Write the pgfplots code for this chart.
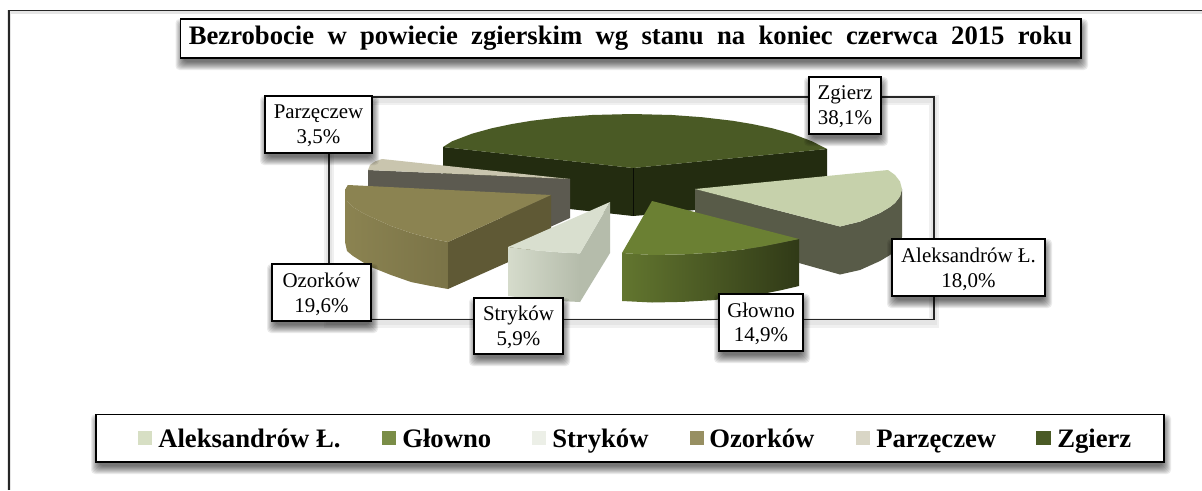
\documentclass[border=0pt]{standalone}
\usepackage{fontspec}
\setmainfont{Liberation Serif}
\usepackage{pgfplots}
\pgfplotsset{compat=1.18}

\definecolor{zgT}{HTML}{4A5A25}
\definecolor{zgS}{HTML}{232C10}
\definecolor{paT}{HTML}{C9C5AE}
\definecolor{paS}{HTML}{5C5A50}
\definecolor{ozT}{HTML}{8B8351}
\definecolor{ozS}{HTML}{5F5935}
\definecolor{alT}{HTML}{C6D1AB}
\definecolor{alS}{HTML}{585B48}
\definecolor{stT}{HTML}{D9DFCF}
\definecolor{stS}{HTML}{B5BCAB}
\definecolor{glT}{HTML}{6B8033}

% one blurred layer of a drop shadow: x0,y0,x1,y1,spread
\newcommand{\shl}[5]{\fill[black,opacity=.08,rounded corners=3pt]
  ([shift={({(1-#5)*0.75pt},{(#5-6)*0.75pt})}]axis cs:#1,#2) rectangle
  ([shift={({(1+#5)*0.75pt},{(-6-#5)*0.75pt})}]axis cs:#3,#4);}
\newcommand{\shbox}[4]{%
  \shl{#1}{#2}{#3}{#4}{6}\shl{#1}{#2}{#3}{#4}{5}\shl{#1}{#2}{#3}{#4}{4}\shl{#1}{#2}{#3}{#4}{3}%
  \shl{#1}{#2}{#3}{#4}{2}\shl{#1}{#2}{#3}{#4}{1}\shl{#1}{#2}{#3}{#4}{0}\shl{#1}{#2}{#3}{#4}{-1}\shl{#1}{#2}{#3}{#4}{-2}%
  \draw[black,line width=.9pt,fill=white] (axis cs:#1,#2) rectangle (axis cs:#3,#4);}
\newcommand{\lab}[3]{\node[align=center,font=\fontsize{15.7}{18.5}\selectfont] at (axis cs:#1,#2) {#3};}
\newcommand{\leg}[2]{\node[anchor=base west,inner sep=0pt,font=\fontsize{20}{24}\bfseries\selectfont] at (axis cs:#1,447) {#2};}

\begin{document}
\begin{tikzpicture}
\begin{axis}[
    scale only axis,
    width=901.5pt,
    height=367.5pt,
    xmin=0, xmax=1202,
    ymin=0, ymax=490,
    y dir=reverse,
    axis lines=none,
    clip=false,
]
% background and outer frame
\addplot[fill=white,draw=none] coordinates {(0,0) (1202,0) (1202,490) (0,490)} --cycle;
\addplot[black!10,line width=3.5pt] coordinates {(9,490) (9,12) (1202,12)};
\addplot[black!85,line width=1.1pt] coordinates {(9,490) (9,10.5) (1202,10.5)};

% plot area frame with its shadow
\addplot[black!6,line width=7pt] coordinates {(329,100) (934,100) (934,323) (329,323) (329,100)};
\addplot[black!10,line width=4pt] coordinates {(329,100) (934,100) (934,322) (329,322) (329,100)};
\addplot[black!85,line width=.9pt] coordinates {(329,97) (934,97) (934,319.5) (329,319.5) (329,97)};

% Zgierz
\addplot[fill=zgS,draw=none] coordinates {(443,147) (443,195) (633,216) (645,215) (827,197) (827,149) (633,168)} --cycle;
\addplot[fill=zgT,draw=none] coordinates {(443,147) (452,141.3) (472,133.7) (492,128.2) (512,124) (532,120.7) (562,117.2) (592,115) (632,114) (672,115) (702,117.2) (732,120.7) (752,124) (772,128.2) (792,133.7) (812,141.3) (827,149) (633,168)} --cycle;
\addplot[black!70!zgS,line width=.4pt] coordinates {(633,168) (633,216)};

% Parzeczew
\addplot[fill=paS,draw=none] coordinates {(368,170) (570,179) (570,218) (550,227) (368,190)} --cycle;
\addplot[fill=paT,draw=none] coordinates {(382,159) (375,161.5) (370,165) (368,170) (570,179)} --cycle;

% Aleksandrow L.
\addplot[fill=alS,draw=none] coordinates {(695,189) (840,226.5) (860,221.6) (880,213) (890,207) (895,203) (900,196.5) (902,189) (902,237) (900,244) (895,251) (890,255) (880,261) (860,270) (840,274.5) (799,263) (695,237)} --cycle;
\addplot[fill=alT,draw=none] coordinates {(695,189) (888,170) (895,175) (900,181.5) (902,189) (900,196.5) (895,203) (890,207) (880,213) (860,221.6) (840,226.5)} --cycle;

% Ozorkow
\addplot[draw=none,left color=ozT,right color=ozT!88!black] coordinates {(348,185) (345,190) (345,197) (345,242) (347,251) (353,256) (361,261) (371,267) (391,275) (411,282) (431,286) (448,289) (448,242) (431,238.5) (411,233) (391,226) (371,217) (361,212) (353,207) (347,201)} --cycle;
\addplot[fill=ozS,draw=none] coordinates {(448,242) (551,195) (551,243) (448,289)} --cycle;
\addplot[fill=ozT,draw=none] coordinates {(348,185) (551,195) (448,242) (431,238.5) (411,233) (391,226) (371,217) (361,212) (353,207) (347,201) (345,195) (345,190)} --cycle;

% Strykow
\addplot[fill=stS,draw=none] coordinates {(610,202) (580,253.4) (580,302) (610,253)} --cycle;
\addplot[draw=none,left color=stT!90!stS,right color=stS] coordinates {(508,247) (520,248.6) (540,250.8) (560,252.4) (580,253.4) (580,302) (560,301) (540,299.5) (520,297.5) (508,296)} --cycle;
\addplot[fill=stT,draw=none] coordinates {(610,202) (580,253.4) (560,252.4) (540,250.8) (520,248.6) (508,247)} --cycle;

% Glowno
\addplot[draw=none,left color=glT!92!black,right color=glT!45!black] coordinates {(622,253) (652,255) (682,254.4) (712,252.7) (742,249.7) (762,246.5) (782,242.5) (799,239) (799,286) (782,290) (762,294) (742,297.2) (712,300.2) (682,301.9) (652,302.5) (622,301)} --cycle;
\addplot[fill=glT,draw=none] coordinates {(652,201) (799,239) (782,242.5) (762,246.5) (742,249.7) (712,252.7) (682,254.4) (652,255) (622,253)} --cycle;

% title
\shbox{180.5}{19}{1081}{58}
\node[font=\fontsize{20}{24}\bfseries\selectfont] at (axis cs:630.5,38) {Bezrobocie\ \ w\ \ powiecie\ \ zgierskim\ \ wg\ \ stanu\ \ na\ \ koniec\ \ czerwca\ \ 2015\ \ roku};

% data labels
\shbox{265}{96}{372}{153}
\lab{318.5}{126}{Parzęczew\\3,5\%}
\shbox{809}{77}{881}{134}
\lab{845}{107}{Zgierz\\38,1\%}
\shbox{892}{239}{1045}{296}
\lab{968.5}{269}{Aleksandrów Ł.\\18,0\%}
\shbox{719}{294}{803}{351}
\lab{761}{324}{Głowno\\14,9\%}
\shbox{474}{298}{563}{354}
\lab{518.5}{327}{Stryków\\5,9\%}
\shbox{272}{264}{371}{321}
\lab{321.5}{294}{Ozorków\\19,6\%}

% legend
\shbox{96}{414.5}{1164}{462}
\addplot[fill=alT!70!white,draw=none] coordinates {(138,431) (152,431) (152,445) (138,445)} --cycle;
\leg{158}{Aleksandrów Ł.}
\addplot[fill=glT!90!white,draw=none] coordinates {(382,431) (396,431) (396,445) (382,445)} --cycle;
\leg{402}{Głowno}
\addplot[fill=stT!50!white,draw=none] coordinates {(532,431) (546,431) (546,445) (532,445)} --cycle;
\leg{552}{Stryków}
\addplot[fill=ozT!90!white,draw=none] coordinates {(690,431) (704,431) (704,445) (690,445)} --cycle;
\leg{709}{Ozorków}
\addplot[fill=paT!70!white,draw=none] coordinates {(856,431) (870,431) (870,445) (856,445)} --cycle;
\leg{876}{Parzęczew}
\addplot[fill=zgT,draw=none] coordinates {(1036,431) (1051,431) (1051,445) (1036,445)} --cycle;
\leg{1057}{Zgierz}
\end{axis}
\pgfresetboundingbox
\path[use as bounding box] (0,0) rectangle (901.5pt,367.5pt);
\end{tikzpicture}
\end{document}
